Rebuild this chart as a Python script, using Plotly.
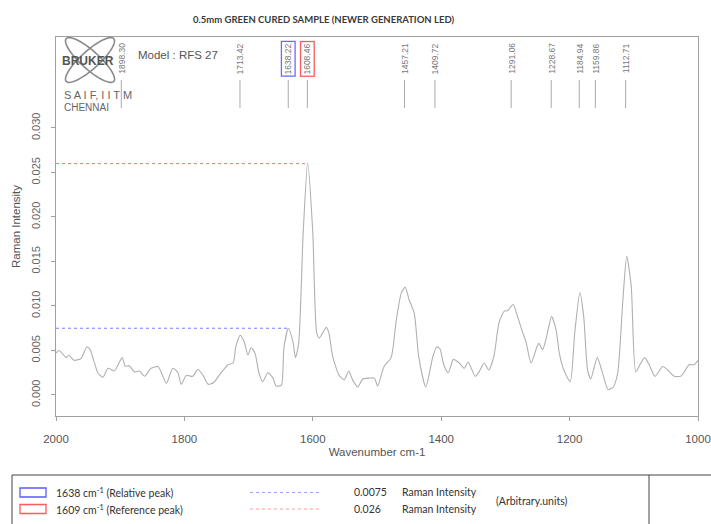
import numpy as np
import plotly.graph_objects as go

# ---------------- data ----------------
wavenumber = [2000, 1995, 1984, 1980, 1972, 1961, 1952, 1947, 1940, 1935, 1927, 1919, 1909,
              1897, 1892, 1886, 1878, 1870, 1862, 1852, 1841, 1834, 1828, 1818, 1810, 1805,
              1797, 1787, 1779, 1771, 1763, 1754, 1746, 1732, 1724, 1720, 1713, 1707, 1701,
              1696, 1690, 1684, 1678, 1670, 1662, 1657, 1649, 1645, 1638, 1631, 1627, 1622,
              1615, 1608, 1600, 1594, 1590, 1579, 1575, 1569, 1559, 1551, 1544, 1538, 1530,
              1522, 1512, 1504, 1499, 1489, 1478, 1470, 1462, 1456, 1450, 1442, 1435, 1424,
              1413, 1407, 1402, 1396, 1389, 1381, 1372, 1364, 1358, 1347, 1341, 1333, 1326,
              1318, 1310, 1302, 1296, 1288, 1281, 1273, 1268, 1260, 1251, 1248, 1242, 1237,
              1228, 1221, 1216, 1209, 1199, 1192, 1184, 1178, 1172, 1167, 1157, 1150, 1140,
              1132, 1125, 1117, 1111, 1104, 1097, 1089, 1083, 1076, 1067, 1055, 1047, 1037,
              1027, 1022, 1014, 1006, 1000]
intensity = [0.0047, 0.0050, 0.0042, 0.0045, 0.0039, 0.0041, 0.0054, 0.0051, 0.0036, 0.0025,
             0.0020, 0.0030, 0.0027, 0.0042, 0.0032, 0.0033, 0.0026, 0.0027, 0.0021, 0.0030,
             0.0032, 0.0022, 0.0013, 0.0030, 0.0025, 0.0012, 0.0022, 0.0021, 0.0029, 0.0022,
             0.0012, 0.0014, 0.0022, 0.0034, 0.0036, 0.0054, 0.0067, 0.0060, 0.0045, 0.0053,
             0.0047, 0.0025, 0.0015, 0.0025, 0.0019, 0.0010, 0.0011, 0.0053, 0.0075, 0.0060,
             0.0042, 0.0058, 0.0182, 0.0261, 0.0182, 0.0070, 0.0064, 0.0076, 0.0070, 0.0043,
             0.0022, 0.0017, 0.0027, 0.0017, 0.0009, 0.0018, 0.0019, 0.0019, 0.0010, 0.0032,
             0.0042, 0.0084, 0.0115, 0.0121, 0.0107, 0.0092, 0.0043, 0.0009, 0.0043, 0.0054,
             0.0052, 0.0034, 0.0025, 0.0040, 0.0036, 0.0030, 0.0037, 0.0021, 0.0026, 0.0036,
             0.0028, 0.0043, 0.0081, 0.0094, 0.0095, 0.0102, 0.0088, 0.0070, 0.0060, 0.0036,
             0.0054, 0.0058, 0.0051, 0.0062, 0.0088, 0.0073, 0.0047, 0.0028, 0.0015, 0.0070,
             0.0115, 0.0088, 0.0028, 0.0018, 0.0042, 0.0028, 0.0006, 0.0009, 0.0025, 0.0107,
             0.0156, 0.0122, 0.0026, 0.0036, 0.0042, 0.0034, 0.0021, 0.0032, 0.0028, 0.0021,
             0.0021, 0.0025, 0.0034, 0.0034, 0.0039]

peak_positions = [1898.30, 1713.42, 1638.22, 1608.46, 1457.21, 1409.72, 1291.06, 1228.67,
                  1184.94, 1159.86, 1112.71]
peak_labels = ["1898.30", "1713.42", "1638.22", "1608.46", "1457.21", "1409.72", "1291.06",
               "1228.67", "1184.94", "1159.86", "1112.71"]

relative_peak_wn = 1638
relative_peak_int = 0.0075
reference_peak_wn = 1609
reference_peak_int = 0.026

x_ticks = [2000, 1800, 1600, 1400, 1200, 1000]
y_ticks = [0.000, 0.005, 0.010, 0.015, 0.020, 0.025, 0.030]

# ---------------- layout helpers ----------------
W, H = 711, 524
L, R, T, B = 56, 698, 37, 416  # plot area pixel box


def px(p):
    return (p - L) / (R - L)


def py(p):
    return (B - p) / (B - T)


FONT = "Liberation Sans, Arial, sans-serif"
LFONT = "Lato, Open Sans, sans-serif"

fig = go.Figure()

fig.add_trace(go.Scatter(
    x=wavenumber, y=intensity, mode="lines",
    line=dict(color="#b0b0b0", width=1.1, shape="spline", smoothing=0.6),
    hoverinfo="x+y", showlegend=False))

y_lo, y_hi = -0.00236, 0.04022


def yd(p):  # pixel y to data y
    return y_lo + (B - p) / (B - T) * (y_hi - y_lo)


shapes = []
annotations = []

# reference lines (drawn in data coordinates through the axes)
shapes.append(dict(type="line", xref="x", yref="y", x0=2000, x1=reference_peak_wn,
                   y0=reference_peak_int, y1=reference_peak_int,
                   line=dict(color="#ff7070", width=1, dash="dot")))
shapes.append(dict(type="line", xref="x", yref="y", x0=2000, x1=relative_peak_wn,
                   y0=relative_peak_int, y1=relative_peak_int,
                   line=dict(color="#7a7aff", width=1, dash="dot")))


def note(xp, yp, text, size, color="#333333", family=FONT, anchor="left"):
    annotations.append(dict(x=px(xp), y=py(yp), xref="paper", yref="paper", text=text,
                            xanchor=anchor, yanchor="middle", showarrow=False,
                            font=dict(family=family, size=size, color=color)))


# Bruker logo (decorative)
cx, cy = 90, 60
for ang in (42, -42):
    t = np.linspace(0, 2 * np.pi, 72)
    a, b = 32, 9
    th = np.deg2rad(ang)
    xs = cx + a * np.cos(t) * np.cos(th) - b * np.sin(t) * np.sin(th)
    ys = cy + a * np.cos(t) * np.sin(th) + b * np.sin(t) * np.cos(th)
    path = "M " + " L ".join(f"{px(x_):.4f},{py(y_):.4f}" for x_, y_ in zip(xs, ys)) + " Z"
    shapes.append(dict(type="path", xref="paper", yref="paper", path=path,
                       line=dict(color="#8a8a8a", width=1.6)))
note(88, 61, "<b>BRUKER</b>", 12, "#555555", anchor="center")
note(62, 95, "S A I F, I I T M", 11, "#666666")
note(62, 108, "CHENNAI", 10, "#666666")
note(136, 55, "Model : RFS 27", 11.5, "#555555")

# peak labels and tick lines
for pos, lab in zip(peak_positions, peak_labels):
    shapes.append(dict(type="line", xref="x", yref="y", x0=pos, x1=pos,
                       y0=yd(108), y1=yd(80), line=dict(color="#aaaaaa", width=1)))
    border = None
    if lab == "1638.22":
        border = "#6b6bff"
    elif lab == "1608.46":
        border = "#ff5a5a"
    ann = dict(x=pos, y=yd(58.5), xref="x", yref="y", text=lab, showarrow=False,
               xanchor="center", yanchor="middle",
               textangle=-90, font=dict(family=FONT, size=8.5, color="#777777"))
    if border:
        ann.update(bordercolor=border, borderwidth=1.3, borderpad=1)
    annotations.append(ann)

# title
note(323, 20, "<b>0.5mm GREEN CURED SAMPLE (NEWER GENERATION LED)</b>", 9.5, "#3a3a3a",
     family=LFONT, anchor="center")

# bottom legend box
shapes.append(dict(type="rect", xref="paper", yref="paper", x0=px(12), x1=px(730),
                   y0=py(540), y1=py(475), line=dict(color="#444444", width=1)))
shapes.append(dict(type="line", xref="paper", yref="paper", x0=px(649), x1=px(649),
                   y0=py(540), y1=py(475), line=dict(color="#444444", width=1)))
for yy, col, dcol, txt, val in [
        (492.5, "#5a5aff", "#9c9cff", "1638 cm<sup>-1</sup> (Relative peak)", "0.0075"),
        (509, "#ff5a5a", "#ff9c9c", "1609 cm<sup>-1</sup> (Reference peak)", "0.026")]:
    shapes.append(dict(type="rect", xref="paper", yref="paper", x0=px(20), x1=px(46),
                       y0=py(yy + 4.5), y1=py(yy - 4.5), line=dict(color=col, width=1.3)))
    shapes.append(dict(type="line", xref="paper", yref="paper", x0=px(250), x1=px(322),
                       y0=py(yy), y1=py(yy), line=dict(color=dcol, width=1, dash="dot")))
    note(54, yy, txt, 10.5, family=LFONT)
    note(352, yy, val, 10.5, family=LFONT)
    note(400, yy, "Raman Intensity", 10.5, family=LFONT)
note(494, 500.5, "(Arbitrary.units)", 10.5, family=LFONT)

fig.update_layout(
    width=W, height=H,
    margin=dict(l=L, r=W - R, t=T, b=H - B, autoexpand=False),
    paper_bgcolor="white", plot_bgcolor="white",
    shapes=shapes, annotations=annotations,
    font=dict(family=FONT, color="#666666"),
    xaxis=dict(range=[2000, 1000], tickvals=x_ticks, ticktext=[str(v) for v in x_ticks],
               automargin=False,
               showgrid=False, zeroline=False, showline=True, linecolor="#a0a0a0", linewidth=1,
               mirror=True, ticks="outside", ticklen=4, tickcolor="#a0a0a0",
               ticklabelstandoff=8,
               tickfont=dict(size=11.5, color="#555555"),
               title=dict(text="Wavenumber cm-1", font=dict(size=11.5, color="#555555"),
                          standoff=4)),
    yaxis=dict(range=[y_lo, y_hi], tickvals=y_ticks, ticktext=[f"{v:.3f}" for v in y_ticks],
               automargin=False,
               tickangle=-90, showgrid=False, zeroline=False, showline=True,
               linecolor="#a0a0a0", linewidth=1, mirror=True, ticks="outside", ticklen=4,
               tickcolor="#a0a0a0", ticklabelstandoff=7,
               tickfont=dict(size=11, color="#666666"),
               title=dict(text="Raman Intensity", font=dict(size=11.5, color="#555555"),
                          standoff=6)),
)

fig.write_html("out.html", config={"displayModeBar": False},
               post_script="document.body.style.margin='0';document.body.style.padding='0';")
